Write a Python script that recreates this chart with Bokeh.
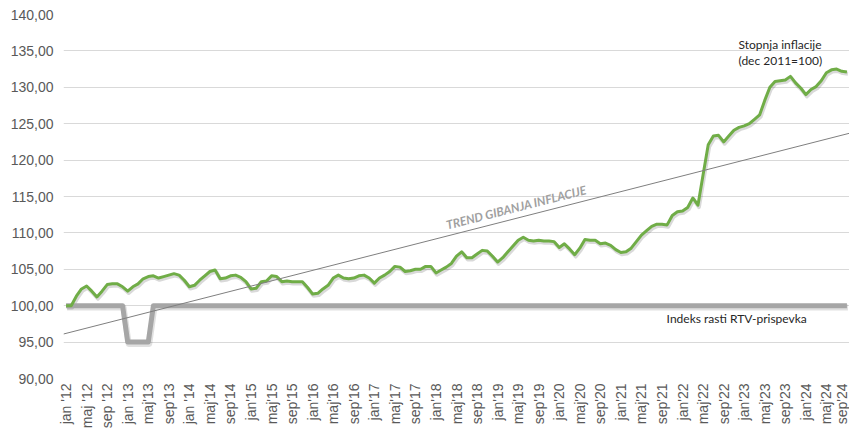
import math
from bokeh.plotting import figure
from bokeh.models import Range1d, FixedTicker, Label
from bokeh.embed import file_html
from bokeh.resources import INLINE

# ---- data ----
inflation = [
    100.0, 100.0, 101.3, 102.3, 102.7, 102.0, 101.2, 102.0, 102.9, 103.0, 103.0, 102.6,
    102.0, 102.6, 103.0, 103.7, 104.0, 104.1, 103.8, 104.0, 104.2, 104.4, 104.2, 103.5,
    102.6, 102.8, 103.5, 104.1, 104.7, 104.9, 103.7, 103.8, 104.1, 104.2, 103.9, 103.3,
    102.3, 102.4, 103.3, 103.4, 104.1, 104.0, 103.3, 103.4, 103.3, 103.3, 103.3, 102.5,
    101.6, 101.7, 102.3, 102.8, 103.8, 104.2, 103.8, 103.7, 103.8, 104.1, 104.2, 103.8,
    103.1, 103.8, 104.2, 104.7, 105.4, 105.3, 104.7, 104.8, 105.0, 105.0, 105.4, 105.4,
    104.5, 104.9, 105.3, 105.8, 106.8, 107.4, 106.6, 106.6, 107.1, 107.6, 107.5, 106.8,
    106.0, 106.6, 107.4, 108.2, 109.0, 109.4, 109.0, 108.9, 109.0, 108.9, 108.9, 108.8,
    108.0, 108.5, 107.8, 107.0, 107.9, 109.1, 109.0, 109.0, 108.5, 108.6, 108.3, 107.7,
    107.3, 107.4, 107.9, 108.8, 109.7, 110.3, 110.9, 111.2, 111.2, 111.1, 112.4, 112.9,
    113.0, 113.5, 114.8, 113.8, 118.0, 122.1, 123.3, 123.4, 122.5, 123.3, 124.1, 124.5,
    124.7, 125.0, 125.6, 126.2, 128.2, 130.0, 130.8, 130.9, 131.0, 131.5, 130.6, 129.9,
    129.0, 129.7, 130.1, 130.9, 132.0, 132.4, 132.5, 132.2, 132.1,
]
rtv_index = [100.0] * 12 + [95.0] * 5 + [100.0] * 136
trend_start = 96.2
trend_end = 123.6

x_tick_labels = [
    "jan '12", "maj '12", "sep '12", "jan '13", "maj'13", "sep'13", "jan '14", "maj'14", "sep'14",
    "jan'15", "maj'15", "sep'15", "jan'16", "maj'16", "sep'16", "jan'17", "maj'17", "sep'17",
    "jan'18", "maj'18", "sep'18", "jan'19", "maj'19", "sep'19", "jan'20", "maj'20", "sep'20",
    "jan'21", "maj'21", "sep'21", "jan'22", "maj'22", "sep'22", "jan'23", "maj'23", "sep'23",
    "jan'24", "maj'24", "sep'24",
]
y_ticks = [90, 95, 100, 105, 110, 115, 120, 125, 130, 135, 140]
y_tick_labels = ["90,00", "95,00", "100,00", "105,00", "110,00", "115,00", "120,00",
                 "125,00", "130,00", "135,00", "140,00"]

n = len(inflation)
idx = list(range(n))
x_ticks = list(range(0, n, 4))

W, H = 849, 432
LEFT, TOP, BOTTOM = 63, 14, 54
p = figure(width=W, height=H, output_backend="svg", toolbar_location=None,
           x_range=Range1d(-0.5, n - 0.5), y_range=Range1d(90, 140),
           min_border_left=LEFT, min_border_right=0, min_border_top=TOP,
           min_border_bottom=BOTTOM)
p.outline_line_color = None
p.background_fill_color = "white"
p.border_fill_color = "white"

p.xgrid.visible = False
p.ygrid.ticker = FixedTicker(ticks=y_ticks)
p.ygrid.grid_line_color = "#d9d9d9"
p.ygrid.grid_line_width = 1

for ax in (p.xaxis[0], p.yaxis[0]):
    ax.axis_line_color = None
    ax.major_tick_line_color = None
    ax.minor_tick_line_color = None
    ax.major_tick_out = 0
    ax.major_tick_in = 0
    ax.minor_tick_out = 0
    ax.minor_tick_in = 0
    ax.major_label_text_font = "Liberation Sans"
    ax.major_label_text_font_size = "14px"
    ax.major_label_text_color = "#595959"

p.yaxis.ticker = FixedTicker(ticks=y_ticks)
p.yaxis.major_label_overrides = dict(zip(y_ticks, y_tick_labels))
p.yaxis.major_label_standoff = 10

p.xaxis.ticker = FixedTicker(ticks=x_ticks)
p.xaxis.major_label_overrides = dict(zip(x_ticks, x_tick_labels))
p.xaxis.major_label_orientation = math.pi / 2
p.xaxis.major_label_standoff = 5

frame_w = W - LEFT
frame_h = H - TOP - BOTTOM
px_per_x = frame_w / n
px_per_y = frame_h / 50.0

# soft drop shadow (ranges shifted by ~1-2 px)
dx, dy = 1.0 / px_per_x, 1.8 / px_per_y
p.extra_x_ranges = {"sh": Range1d(-0.5 - dx, n - 0.5 - dx)}
p.extra_y_ranges = {"sh": Range1d(90 + dy, 140 + dy)}
p.line(idx, rtv_index, line_color="#000000", line_alpha=0.12, line_width=6,
       line_join="round", x_range_name="sh", y_range_name="sh")
p.line(idx, inflation, line_color="#000000", line_alpha=0.15, line_width=4,
       line_join="round", x_range_name="sh", y_range_name="sh")

# RTV index (thick gray)
p.line(idx, rtv_index, line_color="#a6a6a6", line_width=5, line_join="round")
# inflation (green)
p.line(idx, inflation, line_color="#70ad47", line_width=3, line_join="round")
# trend line
slope = (trend_end - trend_start) / (n - 1)
p.line([-0.5, n - 0.5],
       [trend_start - 0.5 * slope, trend_end + 0.5 * slope],
       line_color="#7f7f7f", line_width=1)

ang = math.atan(slope * px_per_y / px_per_x)
tx = 74.4
ty = trend_start + slope * tx + 0.45
p.add_layout(Label(x=tx, y=ty, text="TREND GIBANJA INFLACIJE", angle=ang,
                   text_font="Lato", text_font_style="bold italic",
                   text_font_size="12px", text_color="#a0a0a0",
                   text_align="left", text_baseline="bottom"))

p.add_layout(Label(x=130.9, y=135.9, text="Stopnja inflacije", text_font="Lato",
                   text_font_size="12px", text_color="#262626",
                   text_align="left", text_baseline="middle"))
p.add_layout(Label(x=130.9, y=133.7, text="(dec 2011=100)", text_font="Lato",
                   text_font_size="12px", text_color="#262626",
                   text_align="left", text_baseline="middle"))
p.add_layout(Label(x=116.9, y=98.2, text="Indeks rasti RTV-prispevka", text_font="Lato",
                   text_font_size="12px", text_color="#262626",
                   text_align="left", text_baseline="middle"))

open("out.html", "w").write(file_html(p, INLINE))
